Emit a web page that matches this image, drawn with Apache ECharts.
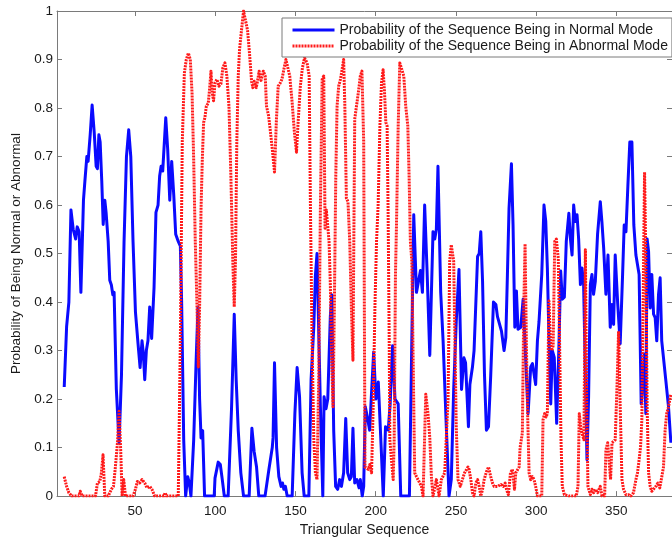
<!DOCTYPE html>
<html>
<head>
<meta charset="utf-8">
<script src="https://cdn.jsdelivr.net/npm/echarts@6/dist/echarts.min.js"></script>
<style>
  html, body { margin: 0; padding: 0; background: #ffffff; }
  #chart { width: 672px; height: 542px; }
</style>
</head>
<body>
<div id="chart"></div>
<script>
// Sequence positions and probabilities of the normal mode (vertices of the blue curve)
const normalX = [5.8,7.3,8.7,10,11.4,12.9,13.9,15.1,16.2,17.8,18.7,19.9,20.7,22,23.2,24.5,25.7,26.5,27.4,28.2,29.2,30.1,31.1,31.9,33.2,34.2,35.2,36.1,36.9,38.3,40,41.5,43.1,44.6,46,47.3,48.7,50.2,51.8,53.1,54.3,55.1,56,57,58,59.1,60.3,61.8,63,64.3,65.3,66.2,67.2,69.1,70.3,71.6,72.8,74.1,75.3,76.9,78.2,79,80.3,81.5,82.8,83.8,84.8,86.5,88.1,89.2,90.2,91.1,92.1,93.3,99.3,99.8,101,101.8,103.1,104.3,105.6,108,110.1,111.8,113,114.3,115.9,117.6,121.1,122.8,124.2,125.7,127.1,131,133.4,135.5,136,136.9,138.2,139.6,141,141.9,142.7,143.7,144.8,147.9,149.6,151,152.5,154.1,155.4,158.3,159.7,161.4,162.4,163.4,164.5,165.5,167,167.8,169,170.1,171.7,172.6,173.8,175,176.3,177.5,178.6,180,181.3,182.5,183.8,184.8,185.8,186.9,188.3,189.6,190.4,191.6,192.5,193.5,194.7,196.2,198.7,200.1,201.6,202.4,203.4,204.7,206.1,207.8,209,210.5,212,214,215.6,221,222.4,223.7,225.4,226.6,227.9,229.1,230.5,232,233.7,235.7,236.8,237.8,238.8,240.5,242,244,245.7,247.1,248.6,250.2,251.9,253.5,255,256,257.8,258.7,260.3,261.3,263.5,264.5,265.5,266.6,267.8,269,270.3,271.7,273.4,274.9,275.9,276.9,278.4,280,281.1,282.1,283.1,284.6,285.6,286.7,287.7,288.7,290.4,291.9,293.5,295,296.6,297.7,299.7,300.8,301.8,303.5,304.9,306,307,308,309.1,310.1,311.3,312.8,314.2,315.3,316.3,317.6,318.8,320.4,321.4,322.4,323.4,324.4,325.5,326.5,327.6,328.6,329.6,330.7,331.7,332.7,333.8,334.8,335.8,336.9,338.3,340,341,342.1,343.5,344.8,346.2,347.3,348.3,349.3,350.8,352.4,353.9,354.9,356,357.2,358.4,359.7,360.9,362.2,363.2,364.2,365.5,366.3,367.4,368.4,369.2,370.1,371.1,372.1,373.2,374.2,375.2,376.3,377.3,378.3,379.4,380.8,382.5,384];
const normalY = [0.225,0.35,0.40,0.59,0.55,0.53,0.555,0.545,0.42,0.61,0.65,0.70,0.69,0.745,0.806,0.75,0.68,0.675,0.745,0.73,0.65,0.56,0.61,0.585,0.525,0.445,0.435,0.415,0.42,0.22,0.11,0.25,0.525,0.70,0.755,0.70,0.525,0.38,0.315,0.265,0.32,0.295,0.24,0.30,0.32,0.39,0.325,0.43,0.585,0.60,0.66,0.68,0.67,0.78,0.715,0.61,0.69,0.62,0.54,0.525,0.515,0.40,0.115,0,0.04,0.027,0,0.115,0.285,0.39,0.20,0.12,0.135,0,0,0.037,0.037,0.07,0.065,0.035,0,0,0.18,0.375,0.24,0.135,0.048,0,0,0.14,0.092,0.06,0,0,0.055,0.10,0.12,0.275,0.10,0.04,0.02,0.027,0.014,0.02,0,0,0.17,0.265,0.205,0.048,0,0,0.24,0.35,0.455,0.50,0.50,0.185,0,0.205,0.18,0.20,0.37,0.415,0.135,0.02,0.014,0.034,0.02,0.048,0.16,0.048,0.034,0.04,0.14,0.027,0.034,0.017,0.034,0,0.02,0.184,0.164,0.136,0.297,0.20,0.235,0.232,0.10,0,0.143,0.136,0.19,0.31,0.20,0.19,0,0,0.30,0.58,0.42,0.42,0.465,0.42,0.60,0.465,0.29,0.545,0.53,0.55,0.68,0.42,0.32,0.143,0,0.034,0.22,0.36,0.467,0.22,0.285,0.275,0.143,0.23,0.266,0.30,0.494,0.50,0.545,0.443,0.25,0.136,0.143,0.25,0.40,0.395,0.37,0.368,0.34,0.30,0.327,0.457,0.593,0.685,0.56,0.348,0.423,0.344,0.348,0.406,0.28,0.17,0.266,0.273,0.23,0.32,0.36,0.457,0.60,0.566,0.47,0.327,0.19,0.30,0.286,0.15,0.307,0.464,0.406,0.41,0.525,0.583,0.53,0.497,0.60,0.566,0.58,0.53,0.436,0.47,0.436,0.25,0.075,0.205,0.436,0.457,0.416,0.443,0.54,0.607,0.566,0.511,0.416,0.497,0.348,0.395,0.354,0.497,0.40,0.314,0.457,0.559,0.545,0.64,0.73,0.73,0.559,0.497,0.497,0.457,0.19,0.218,0.293,0.17,0.53,0.504,0.388,0.457,0.375,0.368,0.32,0.416,0.45,0.32,0.32,0.24,0.185,0.11];

// Sequence positions and probabilities of the abnormal mode (vertices of the red curve)
const abnormalX = [5.8,7.3,8.7,10.4,15,15.8,17,25.3,26.5,28,29,30,31.1,33.2,35.2,36.5,37.7,39,40,41,41.9,42.9,44,48.7,50.2,51.4,52.9,54.3,56,57.4,59.1,60.5,62.2,68,68.7,69.5,76.9,78.2,79.4,80.7,81.9,83.2,84.4,85.5,86.5,87.5,88.6,89.4,90.2,91.1,91.9,92.7,93.5,94.4,95.6,96.4,97.3,98.1,98.9,99.8,101,102.2,103.5,104.7,106,107.2,108.5,109.7,110.9,111.8,112.6,113.4,114.3,115.1,116.3,117.6,118.8,120.1,121.3,122.6,123.4,124.2,125.5,126.3,127.3,128.5,129.9,131.1,131.9,133.2,134.4,135.7,136.9,138.1,139.2,140.2,141.5,142.7,144,145.2,146.4,147.9,149.3,150.6,151.6,153,154.3,155.6,157.2,158.5,159.3,160.3,161.4,162.4,163.4,164.5,165.5,166.6,167.6,168.4,169.2,170.1,170.9,171.7,172.4,173.4,174.2,175.1,175.9,176.9,178,179,180,180.7,181.7,182.7,183.8,184.8,185.8,186.9,188.3,189.4,190.4,191.4,192.5,193.3,194.3,195.3,196.3,197.4,198.4,199.5,200.5,201.5,202.6,203.6,204.6,205.5,206.3,207.1,207.7,208.4,208.8,209.8,210.9,211.5,212.3,212.9,214,215,216.2,217.5,218.7,220,220.8,221.6,222.5,222.9,223.3,224.3,225.4,227,228.5,229.5,231.2,232.6,233.7,234.7,235.7,237.8,239.5,240.9,243,245.1,246.1,247.1,248.6,250.2,251.3,252.7,254,255.4,257.5,258.2,259.3,260.3,261.3,262.4,263.5,264.5,265.5,266.6,267.6,269,270.3,271.7,272.8,273.8,276,278,279.4,280.7,281.5,282.7,284,285.2,286.5,287.3,288.3,289.4,290,290.6,291.4,292.3,293.1,293.9,294.6,295.6,296.6,297.7,298.7,299.7,300.8,303.5,304.3,305.3,306.2,307,308,308.9,309.7,310.6,311.6,312.6,313.8,314.6,315.5,316.3,317.6,320.5,325,326.1,326.9,328,329,329.8,330.7,331.5,332.3,333.8,334.8,335.8,336.9,338.3,340,341,342.7,343.5,344.6,345.6,346.4,347.3,348.3,349.3,350.4,351.4,352.4,353.5,354.5,356,357.6,359,360.7,362.2,363.2,364.2,365.1,365.9,366.7,367.6,368.4,369.2,370.1,371.1,372.1,373.2,374.6,375.9,377.1,378.3,379.4,380.4,381.4,382.5,384];
const abnormalY = [0.04,0.02,0.007,0,0,0.01,0,0,0.027,0.03,0.048,0.085,0,0,0.014,0.02,0.06,0.11,0.175,0.095,0,0.034,0,0,0.014,0.03,0.027,0.034,0.027,0.017,0.02,0.014,0,0,0.007,0,0,0.32,0.73,0.872,0.90,0.913,0.90,0.83,0.695,0.525,0.39,0.266,0.39,0.593,0.695,0.77,0.78,0.804,0.81,0.838,0.876,0.83,0.815,0.852,0.859,0.845,0.85,0.883,0.893,0.866,0.804,0.66,0.484,0.39,0.49,0.73,0.866,0.92,0.96,1.0,1.0,0.96,0.913,0.855,0.842,0.855,0.842,0.855,0.876,0.857,0.876,0.866,0.804,0.784,0.75,0.709,0.668,0.777,0.845,0.85,0.859,0.879,0.90,0.903,0.866,0.811,0.75,0.709,0.77,0.845,0.883,0.903,0.893,0.866,0.593,0.32,0.116,0.048,0.034,0.252,0.593,0.859,0.866,0.552,0.59,0.586,0.525,0.436,0.30,0.184,0.39,0.66,0.804,0.845,0.859,0.879,0.90,0.811,0.614,0.607,0.525,0.39,0.28,0.777,0.811,0.838,0.866,0.876,0.73,0.06,0.06,0.055,0.065,0.048,0.184,0.39,0.525,0.60,0.763,0.852,0.879,0.832,0.77,0.763,0.593,0.32,0.116,0.075,0.034,0.116,0.457,0.552,0.763,0.893,0.893,0.866,0.804,0.763,0.66,0.525,0.484,0.39,0.286,0.048,0.04,0.03,0.02,0,0.21,0.17,0.12,0.04,0,0.034,0,0.034,0.048,0.2,0.484,0.518,0.484,0.143,0.034,0.02,0.034,0.048,0.06,0.055,0.034,0.007,0,0.027,0.034,0.02,0,0.014,0.034,0.05,0.06,0.04,0.027,0.02,0.02,0.024,0.02,0.027,0.014,0.003,0.048,0.055,0.014,0.048,0.048,0.06,0.10,0.10,0.13,0.39,0.52,0.32,0.184,0.048,0.034,0.04,0.034,0.02,0,0,0.157,0.17,0.163,0.17,0.402,0.32,0.30,0.31,0.525,0.53,0.49,0.32,0.116,0.02,0.003,0,0,0.02,0.17,0.136,0.133,0.116,0.508,0.184,0.02,0.003,0.014,0.007,0.014,0.007,0.02,0,0,0.095,0.11,0.11,0.034,0.11,0.11,0.116,0.225,0.34,0.184,0.034,0.014,0.003,0.003,0,0.007,0.034,0.048,0.075,0.102,0.157,0.39,0.668,0.484,0.184,0.048,0.02,0.01,0.007,0.02,0.027,0.017,0.02,0.06,0.136,0.17,0.184,0.21];

// Axis tick labels
const xTickValues = [50, 100, 150, 200, 250, 300, 350];
const yTickLabels = ['0', '0.1', '0.2', '0.3', '0.4', '0.5', '0.6', '0.7', '0.8', '0.9', '1'];

const seriesNames = [
  'Probability of the Sequence Being in Normal Mode',
  'Probability of the Sequence Being in Abnormal Mode'
];

const zip = (xs, ys) => xs.map((x, i) => [x, ys[i]]);

const axisGray = '#7a7a7a';
const fontFamily = '"Liberation Sans", Arial, Helvetica, sans-serif';

const chart = echarts.init(document.getElementById('chart'), null, { renderer: 'canvas' });

const xBase = {
  type: 'value', min: 1.3, max: 384.7,
  splitLine: { show: false },
  axisLine: { show: true, onZero: false, lineStyle: { color: axisGray, width: 1 } },
  axisTick: { show: true, inside: true, length: 5, customValues: xTickValues, lineStyle: { color: axisGray } }
};
const yBase = {
  type: 'value', min: 0, max: 1, interval: 0.1,
  splitLine: { show: false },
  axisLine: { show: true, onZero: false, lineStyle: { color: axisGray, width: 1 } },
  axisTick: { show: true, inside: true, length: 5, lineStyle: { color: axisGray } }
};

chart.setOption({
  animation: false,
  backgroundColor: '#ffffff',
  grid: { left: 57, right: -1, top: 11, bottom: 42, containLabel: false },
  legend: {
    orient: 'vertical',
    left: 282, top: 18,
    padding: [5, 4, 4, 9],
    itemWidth: 42, itemHeight: 14, itemGap: 2, itemTextGap: 5,
    backgroundColor: '#ffffff',
    borderColor: axisGray, borderWidth: 1, borderRadius: 0,
    // only the line sample is shown, no marker on it
    itemStyle: { color: 'rgba(0,0,0,0)', borderColor: 'rgba(0,0,0,0)', borderWidth: 0, opacity: 0 },
    lineStyle: { width: 3 },
    textStyle: { fontFamily, fontSize: 14, color: '#1a1a1a' },
    data: seriesNames
  },
  xAxis: [
    Object.assign({}, xBase, {
      position: 'bottom',
      name: 'Triangular Sequence', nameLocation: 'middle', nameGap: 22,
      nameTextStyle: { fontFamily, fontSize: 14, color: '#1a1a1a' },
      axisLabel: { show: true, customValues: xTickValues, margin: 8, fontFamily, fontSize: 13.5, color: '#1a1a1a' }
    }),
    Object.assign({}, xBase, { position: 'top', axisLabel: { show: false } })
  ],
  yAxis: [
    Object.assign({}, yBase, {
      position: 'left',
      name: 'Probability of Being Normal or Abnormal', nameLocation: 'middle', nameGap: 30,
      nameTextStyle: { fontFamily, fontSize: 13.5, color: '#1a1a1a' },
      axisLabel: {
        show: true, margin: 4, fontFamily, fontSize: 13.5, color: '#1a1a1a',
        formatter: (v) => yTickLabels[Math.round(v * 10)]
      }
    }),
    Object.assign({}, yBase, { position: 'right', axisLabel: { show: false } })
  ],
  series: [
    {
      name: seriesNames[0], type: 'line', xAxisIndex: 0, yAxisIndex: 0,
      data: zip(normalX, normalY),
      symbol: 'none', clip: true,
      lineStyle: { color: '#0a0aff', width: 3, type: 'solid', join: 'round' },
      itemStyle: { color: '#0a0aff' }
    },
    {
      name: seriesNames[1], type: 'line', xAxisIndex: 0, yAxisIndex: 0,
      data: zip(abnormalX, abnormalY),
      symbol: 'none', clip: true,
      lineStyle: { color: '#ff1a1a', width: 3, type: [2, 1], join: 'round' },
      itemStyle: { color: '#ff1a1a' }
    }
  ]
});
</script>
</body>
</html>
